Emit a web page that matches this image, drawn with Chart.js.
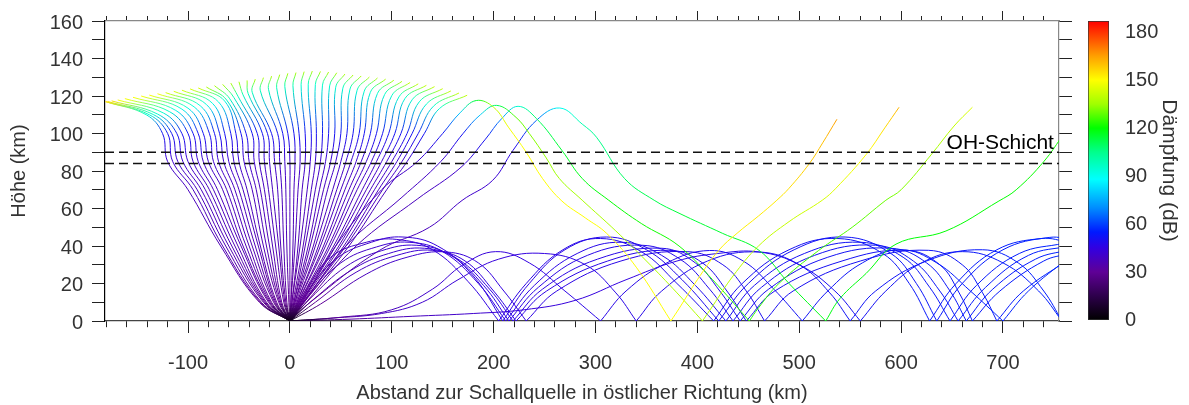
<!DOCTYPE html>
<html>
<head>
<meta charset="utf-8">
<script src="https://cdn.jsdelivr.net/npm/chart.js"></script>
<style>
  body { margin: 0; background: #fff; }
  #wrap { position: relative; width: 1189px; height: 405px; }
  #wrap canvas { position: absolute; top: 0; }
</style>
</head>
<body>
<div id="wrap">
  <canvas id="rays" width="1189" height="405" style="left:0"></canvas>
  <canvas id="damp" width="109" height="405" style="left:1080px"></canvas>
</div>
<script>
Chart.defaults.font.family = '"Liberation Sans", Arial, Helvetica, sans-serif';
Chart.defaults.color = "#333";

// damping colour table (dB -> rgb)
const cmapDb = [0, 15, 30, 45, 55, 70, 88, 105, 120, 135, 150, 165, 187];
const cmapRgb = [[0,0,0],[45,0,75],[95,0,150],[50,0,225],[0,25,255],[0,140,255],[0,255,255],
                 [0,255,140],[0,255,0],[160,255,0],[255,255,0],[255,160,0],[255,0,0]];

const xRange = [-181.5, 755];
const yRange = [0, 160];
const dampRange = [0, 187];
const ohLayer = [84, 90];

// fan of rays leaving the source upwards (km); each index is one ray
const fanX10  = [-30,-29,-28,-26,-25,-24,-23,-21,-20,-19,-18,-16,-15,-14,-13,-11,-10,-9,-8,-6,-5,-4,-3,-1,0,1,1,2,2,3,4,4,5,5,6,7,7,8,8,9,10,10,11,11,12,13,13,14];
const fanX40  = [-68,-66,-63,-60,-57,-54,-51,-48,-46,-43,-40,-37,-34,-31,-29,-26,-23,-20,-17,-14,-11,-9,-6,-3,0,3,5,8,10,13,15,18,20,23,25,28,30,33,35,38,40,43,45,48,50,53,55,58];
const fanX70  = [-100,-95,-91,-87,-83,-79,-75,-71,-66,-62,-58,-54,-50,-46,-42,-37,-33,-29,-25,-21,-17,-12,-8,-4,0,4,8,12,17,21,25,29,33,37,42,46,50,54,58,62,66,71,75,79,83,87,91,95];
const fanX85  = [-120,-115,-110,-105,-100,-95,-90,-85,-80,-75,-70,-65,-60,-55,-50,-45,-40,-35,-30,-25,-20,-15,-10,-5,0,5,10,15,20,25,30,35,40,45,50,55,60,65,70,75,80,85,90,95,100,105,110,115];
const fanX100 = [-125,-120,-116,-111,-106,-100,-95,-90,-85,-79,-74,-69,-64,-58,-53,-48,-43,-37,-32,-27,-22,-18,-12,-7,-2,4,9,15,21,26,32,38,44,50,56,62,68,73,79,85,91,97,103,109,115,120,126,132];
const fanXmid = [-141,-138,-134,-130,-124,-118,-112,-106,-100,-94,-88,-82,-76,-70,-64,-62,-59,-55,-51,-46,-41,-37,-29,-21,-13,-5,3,11,18,25,32,39,45,52,59,66,73,79,86,93,100,107,113,120,127,134,141,147];
const fanYmid = [110,110,110.1,110.4,110.9,111.6,112.3,113,113.5,114.2,114.8,115.5,116.1,116.8,117.3,117.8,118.5,119.2,119.9,120.6,121.3,122,122.8,123.6,124.4,125.1,125.5,126,126.3,126.1,125.8,125.4,124.7,124.2,123.7,123.1,122.6,122,121.4,120.8,120.2,119.5,118.7,118,116.9,115.7,114.6,113.4];
const fanXtip = [-181,-181,-179,-175,-169,-162,-154,-146,-138,-130,-122,-114,-106,-98,-90,-82,-74,-66,-58,-50,-42,-34,-26,-18,-10,-2,6,14,22,30,38,46,54,62,70,78,86,94,102,110,118,126,134,142,150,158,166,174];
const fanYtip = [117,117,117.1,117.4,117.9,118.6,119.3,120,120.5,121.2,121.8,122.5,123.1,123.8,124.3,124.8,125.5,126.2,126.9,127.6,128.3,129,129.8,130.6,131.4,132.1,132.5,133,133.3,133.1,132.8,132.4,131.7,131.2,130.7,130.1,129.6,129,128.4,127.8,127.2,126.5,125.7,125,123.9,122.7,121.6,120.4];
const fanDmid = [95,95,95,95,95,95,92,92,92,92,92,92,92,92,92,98,98,98,98,98,98,98,98,98,98,98,98,95,95,95,95,95,95,95,95,95,95,95,95,95,95,95,95,95,95,95,95,95];
const fanDtip = [155,155,155,155,150,150,150,150,150,150,145,145,145,145,145,138,138,138,138,138,138,138,138,138,138,138,138,138,138,138,138,138,138,138,138,138,138,138,138,138,142,142,142,142,142,142,142,142];
const fanLevelY = [0, 10, 40, 70, 85, 100];
const fanLevelD = [4, 30, 36, 38, 41, 51];

// long range rays through the thermosphere: [x km, height km, damping dB]
const rayYellow = [[0,0,4],[12,10,30],[45,40,36],[90,70,38],[125,85,41],[150,100,51],[167,111,80],[183,117.6,115],
  [200,114,140],[215,103,148],[232,90,150],[248,76,150],[267,64,150],[290,55,150],[311,46.7,150],[340,28.7,150],[374,0,150],
  [382,6.6,150],[400,22,151],[421,37.7,152],[439,46.8,152],[460,56,153],[478,64.4,153],[490,70.8,155],[510,84,158],[523,95,160],[537,107.6,165]];
const rayYellowGreen = [[0,0,4],[14,10,30],[55,40,36],[110,66,38],[148,85,41],[170,100,51],[187,110,80],[203,115,110],
  [222,108.6,128],[235,100,132],[251.6,87,134],[264.5,76,135],[287,64.4,136],[320,48,137],[350,32,137],[380,15,138],[405,0,138],
  [415,8,138],[435,24,139],[460,40,140],[490,53,141],[522.6,64.4,143],[536,70.8,145],[566,89,150],[584,103,155],[598,114,162]];
const rayGreen = [[0,0,4],[16,10,30],[65,40,36],[125,65,38],[168,82,41],[192,97,51],[208,108,70],[224,114.5,95],
  [242,108,110],[267,91,115],[287,76,118],[313,64.4,120],[345,52,121],[382,40,122],[415,22,123],[451,0,124],
  [460,7,124],[480,20,125],[519,37.6,126],[552,50,128],[585,64.4,130],[600,70,132],[630,89,135],[652,104,140],[670,114,145]];
const rayGreenFar = [[0,0,4],[20,10,30],[88,37.7,36],[137,50,38],[169,64.3,40],[199,75,42],[219,91,47],[242,107,65],[265,113.6,90],
  [287,105,100],[301,98,105],[328.5,76,110],[357.6,64.4,112],[382,57.5,114],[424.5,46.8,115],[460.5,37.7,116],[490,20,117],[526,0,118],
  [540,12,118],[565.7,25.4,119],[595,41,119],[644,48,120],[696,64,120],[713,70,120],[740,85,121],[760,100,122]];

// rays trapped below the stratopause, reflected at the ground
const ductA = [[0,0,4],[15,14,30],[45,33,38],[80,42,41],[111,44.8,43],[145,40,44],[180,24,45],[209,0,46],
  [235,20,46],[270,38,47],[311,44.8,48],[350,38,48],[385,22,49],[421,0,50],
  [450,20,50],[495,38,51],[545,44.8,52],[590,36,53],[615,20,53],[635,0,54],
  [660,20,54],[700,38,55],[746,44.6,56],[770,43,56]];
const ductB = [[0,0,4],[18,13,30],[50,31,38],[85,39.5,41],[117,42,43],[150,37,44],[185,20,45],[212,0,46],
  [240,19,46],[282,36,47],[326,42,48],[365,35,48],[398,19,49],[428,0,50],
  [456,19,50],[505,36,51],[560,42,52],[602,34,53],[628,18,53],[648,0,54],
  [674,19,54],[716,36,55],[760,41.5,56]];
const ductC = [[0,0,4],[20,12,30],[55,29,38],[90,37.5,41],[124,40.4,43],[158,35,44],[190,19,45],[215,0,46],
  [244,18,46],[292,35,47],[346,40.4,48],[383,33,48],[412,17,49],[435,0,50],
  [463,18,50],[515,35,51],[575,40.4,52],[612,32,53],[638,16,53],[656,0,54],
  [683,18,54],[725,35,55],[765,40,56]];
const ductD = [[0,0,4],[22,11,30],[60,27,38],[97,36,41],[132,38.8,43],[165,33,44],[196,17,45],[219,0,46],
  [248,17,46],[302,33,47],[365,38.8,48],[398,31,48],[422,16,49],[442,0,50],
  [470,17,50],[528,34,51],[590,38.8,52],[625,31,53],[648,16,53],[664,0,54],
  [690,17,54],[732,33,55],[765,38,56]];
const ductE = [[0,0,4],[25,10,30],[65,26,38],[105,35,41],[140,37.7,43],[172,32,44],[200,16,45],[222,0,46],
  [252,16,46],[312,32,47],[372,37.7,48],[405,31,48],[429,16,49],[448,0,50],
  [476,16,50],[542,32,51],[605,37.7,52],[638,30,53],[657,15,53],[670,0,54],
  [697,16,54],[740,32,55],[765,36,56]];
const ductF = [[0,0,4],[50,2,32],[100,6,38],[140,17,41],[170,30,43],[202,37,44],[235,31,45],[270,16,46],[305,0,47],
  [330,16,47],[370,31,48],[412,37.6,49],[445,32,50],[475,17,51],[503,0,52],
  [528,16,52],[562,31,53],[600,38,54],[635,31,55],[668,16,55],[700,0,56],
  [725,16,56],[765,34,57]];
const ductG = [[0,0,4],[60,1,32],[120,2.5,38],[180,4,41],[230,6,43],[280,11,44],[330,22,45],[380,32,46],[420,36,47],[461,36.8,48],[500,30,49],[535,16,50],[560,0,51],
  [585,16,51],[620,31,52],[660,37,53],[700,31,54],[735,16,55],[758,0,56]];
const ductH = [[0,0,4],[30,9,30],[75,25,38],[115,34,41],[154,36.8,43],[185,31,44],[210,16,45],[232,0,46],
  [262,16,46],[325,32,47],[390,37,48],[425,30,49],[448,16,49],[466,0,50],
  [494,16,50],[560,32,51],[627,37.7,52],[660,30,53],[680,15,54],[694,0,54],
  [720,16,55],[765,33,56]];
const ductI = [[0,0,4],[40,1.5,32],[90,4,38],[130,10,41],[165,22,43],[205,33,44],[250,36,45],[290,30,46],[320,15,47],[340,0,47],
  [365,16,48],[410,32,49],[460,36.8,50],[500,30,51],[530,15,51],[550,0,52],
  [575,16,52],[625,32,53],[680,38,54],[715,31,55],[740,16,55],[758,0,56]];
const ductJ = [[0,0,4],[14,15,30],[40,34,38],[75,42,41],[105,43.5,43],[140,38,44],[175,21,45],[205,0,46],
  [232,20,46],[268,38,47],[305,44,48],[345,37,48],[380,20,49],[416,0,50],
  [444,20,50],[490,38,51],[538,44,52],[582,36,53],[608,20,53],[628,0,54],
  [654,20,54],[694,38,55],[738,44,56],[765,42,56]];

const longRays = [rayYellow, rayYellowGreen, rayGreen, rayGreenFar];
const ductRays = [ductA, ductB, ductC, ductD, ductE, ductF, ductG, ductH, ductI, ductJ];

function dampColor(d) {
  let i = 1;
  while (i < cmapDb.length - 1 && d > cmapDb[i]) i++;
  const t = Math.max(0, Math.min(1, (d - cmapDb[i - 1]) / (cmapDb[i] - cmapDb[i - 1])));
  const a = cmapRgb[i - 1], b = cmapRgb[i];
  const c = a.map((v, k) => Math.round(v + (b[k] - v) * t));
  return "rgb(" + c.join(",") + ")";
}

// colour each piece of a ray by its damping, blended along the piece
const dampSegment = {
  borderColor(sc) {
    const data = sc.chart.data.datasets[sc.datasetIndex].data;
    const a = data[sc.p0DataIndex], b = data[sc.p1DataIndex];
    const g = sc.chart.ctx.createLinearGradient(sc.p0.x, sc.p0.y, sc.p1.x, sc.p1.y);
    g.addColorStop(0, dampColor(a.d));
    g.addColorStop(1, dampColor(b.d));
    return g;
  }
};

function rayDataset(points) {
  return {
    data: points,
    showLine: true,
    borderWidth: 1,
    borderColor: "#4b00b4",
    pointRadius: 0,
    tension: 0.4,
    segment: dampSegment,
    order: 1,
  };
}

// a reflection at the ground is a corner, so every hop is its own curve
function hops(ray) {
  const pts = ray.map((p) => ({ x: p[0], y: p[1], d: p[2] }));
  const out = [];
  let cur = [pts[0]];
  for (let i = 1; i < pts.length; i++) {
    cur.push(pts[i]);
    if (pts[i].y === 0 && i < pts.length - 1) {
      out.push(cur);
      cur = [pts[i]];
    }
  }
  out.push(cur);
  return out;
}

const datasets = [];
fanX85.forEach((_, i) => {
  const xs = [0, fanX10[i], fanX40[i], fanX70[i], fanX85[i], fanX100[i]];
  const pts = xs.map((x, k) => ({ x: x, y: fanLevelY[k], d: fanLevelD[k] }));
  pts.push({ x: fanXmid[i], y: fanYmid[i], d: fanDmid[i] });
  pts.push({ x: fanXtip[i], y: fanYtip[i], d: fanDtip[i] });
  datasets.push(rayDataset(pts));
});
longRays.concat(ductRays).forEach((ray) => {
  hops(ray).forEach((h) => datasets.push(rayDataset(h)));
});
ohLayer.forEach((h) => {
  datasets.push({
    data: [{ x: xRange[0], y: h }, { x: xRange[1], y: h }],
    showLine: true,
    borderColor: "#111",
    borderWidth: 1.3,
    borderDash: [9, 5],
    pointRadius: 0,
    order: 0,
  });
});

const ohLabel = {
  id: "ohLabel",
  afterDatasetsDraw(chart) {
    const { ctx, scales } = chart;
    ctx.save();
    ctx.font = '21px "Liberation Sans", Arial, sans-serif';
    ctx.fillStyle = "#000";
    ctx.textAlign = "right";
    ctx.textBaseline = "alphabetic";
    ctx.fillText("OH-Schicht", scales.x.getPixelForValue(750), scales.y.getPixelForValue(92));
    ctx.restore();
  },
};

const isMajorX = (c) => c.tick && Math.round(c.tick.value) % 100 === 0;

new Chart(document.getElementById("rays"), {
  type: "scatter",
  data: { datasets: datasets },
  plugins: [ohLabel],
  options: {
    responsive: false,
    devicePixelRatio: 1,
    animation: false,
    events: [],
    layout: { padding: { top: 9, right: 117, left: 0, bottom: 0 } },
    plugins: { legend: { display: false }, tooltip: { enabled: false } },
    scales: {
      x: {
        type: "linear", position: "bottom", min: xRange[0], max: xRange[1],
        ticks: {
          stepSize: 20, includeBounds: false, autoSkip: false, maxRotation: 0,
          padding: 18, font: { size: 20 }, color: "#333",
          callback: (v) => (Math.round(v) % 100 === 0 ? v : ""),
        },
        grid: {
          drawOnChartArea: false, tickLength: 12, tickColor: "#222",
          tickBorderDash: (c) => (isMajorX(c) ? [] : [6, 20]),
        },
        border: { color: "#444", width: 1.2 },
        title: {
          display: true, text: "Abstand zur Schallquelle in östlicher Richtung (km)",
          font: { size: 20 }, color: "#333", padding: { top: 0, bottom: 0 },
        },
        afterFit: (s) => { s.height = 84; },
      },
      xTop: {
        type: "linear", position: "top", min: xRange[0], max: xRange[1],
        ticks: { stepSize: 20, includeBounds: false, autoSkip: false, display: false },
        grid: {
          drawOnChartArea: false, tickLength: 10, tickColor: "#222",
          tickBorderDash: (c) => (isMajorX(c) ? [] : [5, 5]),
          tickBorderDashOffset: (c) => (isMajorX(c) ? 0 : 5),
        },
        border: { color: "#888", width: 1.2 },
        afterFit: (s) => { s.height = 12; },
      },
      y: {
        type: "linear", position: "left", min: yRange[0], max: yRange[1],
        ticks: {
          stepSize: 10, autoSkip: false, padding: 9, labelOffset: 2,
          font: { size: 20 }, color: "#333",
          callback: (v) => (v % 20 === 0 ? v : ""),
        },
        grid: { drawOnChartArea: false, tickLength: 13, tickColor: "#222" },
        border: { color: "#000", width: 1.2 },
        title: { display: true, text: "Höhe (km)", font: { size: 20 }, color: "#333", padding: { top: 7 } },
        afterFit: (s) => { s.width = 105; },
      },
      yRight: {
        type: "linear", position: "right", min: yRange[0], max: yRange[1],
        ticks: { stepSize: 10, autoSkip: false, display: false },
        grid: { drawOnChartArea: false, tickLength: 13, tickColor: "#222" },
        border: { color: "#888", width: 1.2 },
        afterFit: (s) => { s.width = 13; },
      },
    },
  },
});

// colour bar of the damping
new Chart(document.getElementById("damp"), {
  type: "bar",
  data: {
    labels: [""],
    datasets: [{
      data: [dampRange],
      backgroundColor(c) {
        const chart = c.chart;
        if (!chart.chartArea) return "#000";
        const y = chart.scales.y;
        const g = chart.ctx.createLinearGradient(0, y.getPixelForValue(dampRange[0]), 0, y.getPixelForValue(dampRange[1]));
        cmapDb.forEach((d) => g.addColorStop(d / dampRange[1], dampColor(d)));
        return g;
      },
      borderColor: "#333",
      borderWidth: 1,
      borderSkipped: false,
      barPercentage: 1,
      categoryPercentage: 1,
    }],
  },
  options: {
    responsive: false,
    devicePixelRatio: 1,
    animation: false,
    events: [],
    layout: { padding: { top: 21, bottom: 85, left: 8, right: 0 } },
    plugins: { legend: { display: false }, tooltip: { enabled: false } },
    scales: {
      x: { display: false },
      y: {
        position: "right", min: dampRange[0], max: dampRange[1],
        ticks: { stepSize: 30, includeBounds: false, padding: 8, font: { size: 20 }, color: "#333" },
        grid: { display: false },
        border: { display: false },
        title: { display: true, text: "Dämpfung (dB)", font: { size: 21 }, color: "#333", padding: { top: 8 } },
        afterFit: (s) => { s.width = 80; },
      },
    },
  },
});
</script>
</body>
</html>
